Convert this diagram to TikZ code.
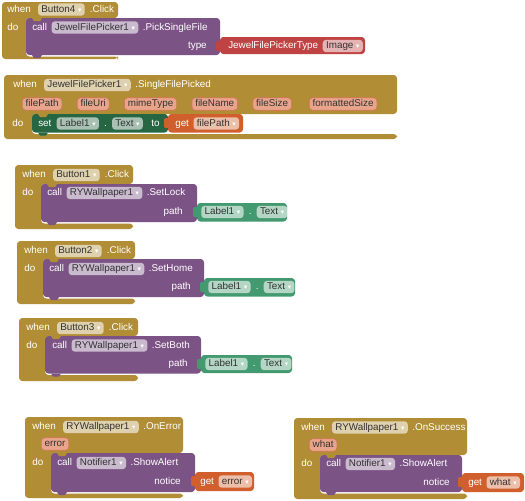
\documentclass[tikz,border=0pt]{standalone}
\usepackage{fontspec}
\setmainfont{Liberation Sans}
\newfontfamily\ddfont{DejaVu Sans}
\usetikzlibrary{positioning}
\definecolor{mgold}{RGB}{177,142,53}
\definecolor{mpurple}{RGB}{124,83,133}
\definecolor{mhelper}{RGB}{191,67,67}
\definecolor{msetgreen}{RGB}{38,102,67}
\definecolor{mgetgreen}{RGB}{67,153,112}
\definecolor{morange}{RGB}{208,95,45}
\definecolor{mparam}{RGB}{233,164,140}
\definecolor{mparamline}{RGB}{214,118,92}
\newcommand{\blkfont}{\fontsize{7.4}{8}\selectfont}
\newcommand{\dd}{\hspace{2pt}{\ddfont\fontsize{5}{5}\selectfont\textcolor{white}{▾}}}
% event block with its statement slot: L T R slot-top slot-left slot-bottom B
\newcommand{\evblock}[7]{%
  \fill[mgold, rounded corners=2.5pt] (#1,#2) -- (#3,#2) -- (#3,#4) -- (#5,#4)
    -- (#5,#6) -- (#3,#6) -- (#3,#7) -- (#1,#7) -- cycle;}
% statement block: colour x0 y0 x1 y1
\newcommand{\stblock}[5]{%
  \fill[#1, rounded corners=2.5pt] (#2,#3) rectangle (#4,#5);
  \fill[mgold] ({#2+6},#3) -- ++(2,3) -- ++(6,0) -- ++(2,-3) -- cycle;
  \fill[#1] ({#2+6},#5) -- ++(2,3) -- ++(6,0) -- ++(2,-3) -- cycle;}
% value block with its plug: colour x0 y0 x1 y1
\newcommand{\valblock}[5]{%
  \fill[#1, rounded corners=2.5pt] (#2,#3) rectangle (#4,#5);
  \fill[#1, rounded corners=1pt] ({#2-4},{#3+4}) rectangle ({#2+1},{#3+14});}
\tikzset{
  lbl/.style={font=\blkfont, text=white, inner sep=0pt,
    text height=5.4pt, text depth=1.5pt},
  fld/.style={font=\blkfont, text=black!80, fill=white, fill opacity=0.6,
    text opacity=1, rounded corners=2.5pt, inner xsep=2.5pt, inner ysep=1.2pt,
    text height=5.4pt, text depth=1.5pt},
  prm/.style={fld, fill=mparam, fill opacity=1, draw=mparamline, line width=0.5pt}
}
\begin{document}
\begin{tikzpicture}[x=0.75pt, y=-0.75pt]
  \useasboundingbox (0,0) rectangle (525,500);
  \fill[white] (0,0) rectangle (525,500);

  % Button4.Click
  \evblock{2}{2}{118}{18}{26}{56.5}{59}
  \stblock{mpurple}{26}{18}{220}{55}
  \valblock{mhelper}{220}{37}{365}{54}
  \node[lbl, anchor=west] (b4when) at (7,9.5) {when};
  \node[fld, right=5pt of b4when] (b4btn) {Button4\dd};
  \node[lbl, right=3.5pt of b4btn] (b4evt) {.Click};
  \node[lbl, anchor=west] (b4do) at (7,27.5) {do};
  \node[lbl, anchor=west] (b4call) at (32,27.5) {call};
  \node[fld, right=3pt of b4call] (b4comp) {JewelFilePicker1\dd};
  \node[lbl, right=3pt of b4comp] (b4meth) {.PickSingleFile};
  \node[lbl, anchor=east] (b4type) at (207,46) {type};
  \node[lbl, anchor=west] (b4hlp) at (228,46) {JewelFilePickerType};
  \node[fld, right=3pt of b4hlp] (b4img) {Image\dd};

  % JewelFilePicker1.SingleFilePicked
  \evblock{4}{75}{397}{114}{32}{134}{139}
  \stblock{msetgreen}{32}{114}{168}{132.5}
  \valblock{morange}{168}{114}{243}{132.5}
  \node[lbl, anchor=west] (sfwhen) at (13,85) {when};
  \node[fld, right=5pt of sfwhen] (sfcomp) {JewelFilePicker1\dd};
  \node[lbl, right=3pt of sfcomp] (sfevt) {.SingleFilePicked};
  \node[prm, anchor=west] (sfpath) at (22,104) {filePath};
  \node[prm, right=11pt of sfpath] (sfuri) {fileUri};
  \node[prm, right=11pt of sfuri] (sfmime) {mimeType};
  \node[prm, right=11pt of sfmime] (sfname) {fileName};
  \node[prm, right=11pt of sfname] (sfsize) {fileSize};
  \node[prm, right=13pt of sfsize] (sffmt) {formattedSize};
  \node[lbl, anchor=west] (sfdo) at (12,123.5) {do};
  \node[lbl, anchor=west] (sfset) at (38,123.5) {set};
  \node[fld, right=3.5pt of sfset] (sflab) {Label1\dd};
  \node[lbl, right=3.5pt of sflab] (sfdot) {.};
  \node[fld, right=3.5pt of sfdot] (sftxt) {Text\dd};
  \node[lbl, right=6pt of sftxt] (sfto) {to};
  \node[lbl, anchor=west] (sfget) at (175,123.5) {get};
  \node[fld, right=3pt of sfget] (sfvar) {filePath\dd};

  % Button1.Click
  \evblock{15}{165}{133}{184}{41}{223.5}{229}
  \stblock{mpurple}{41}{184}{197}{222}
  \valblock{mgetgreen}{197}{203}{287}{221.5}
  \node[lbl, anchor=west] (b1when) at (22,175) {when};
  \node[fld, right=5pt of b1when] (b1btn) {Button1\dd};
  \node[lbl, right=3.5pt of b1btn] (b1evt) {.Click};
  \node[lbl, anchor=west] (b1do) at (22,193) {do};
  \node[lbl, anchor=west] (b1call) at (47,193) {call};
  \node[fld, right=3pt of b1call] (b1comp) {RYWallpaper1\dd};
  \node[lbl, right=3pt of b1comp] (b1meth) {.SetLock};
  \node[lbl, anchor=east] (b1path) at (183,212) {path};
  \node[fld, anchor=west] (b1lab) at (201,212) {Label1\dd};
  \node[lbl, right=3.5pt of b1lab] (b1dot) {.};
  \node[fld, right=3.5pt of b1dot] (b1txt) {Text\dd};

  % Button2.Click
  \evblock{17}{241}{135}{259}{43}{298.5}{304}
  \stblock{mpurple}{43}{259}{204}{297}
  \valblock{mgetgreen}{204}{278}{295}{296.5}
  \node[lbl, anchor=west] (b2when) at (24,251) {when};
  \node[fld, right=5pt of b2when] (b2btn) {Button2\dd};
  \node[lbl, right=3.5pt of b2btn] (b2evt) {.Click};
  \node[lbl, anchor=west] (b2do) at (24,269) {do};
  \node[lbl, anchor=west] (b2call) at (49,269) {call};
  \node[fld, right=3pt of b2call] (b2comp) {RYWallpaper1\dd};
  \node[lbl, right=3pt of b2comp] (b2meth) {.SetHome};
  \node[lbl, anchor=east] (b2path) at (191,287) {path};
  \node[fld, anchor=west] (b2lab) at (208,287) {Label1\dd};
  \node[lbl, right=3.5pt of b2lab] (b2dot) {.};
  \node[fld, right=3.5pt of b2dot] (b2txt) {Text\dd};

  % Button3.Click
  \evblock{19}{318}{138}{336}{45}{375}{381}
  \stblock{mpurple}{45}{336}{201}{373.5}
  \valblock{mgetgreen}{201}{355}{292}{373}
  \node[lbl, anchor=west] (b3when) at (26,328) {when};
  \node[fld, right=5pt of b3when] (b3btn) {Button3\dd};
  \node[lbl, right=3.5pt of b3btn] (b3evt) {.Click};
  \node[lbl, anchor=west] (b3do) at (26,345.5) {do};
  \node[lbl, anchor=west] (b3call) at (52,345.5) {call};
  \node[fld, right=3pt of b3call] (b3comp) {RYWallpaper1\dd};
  \node[lbl, right=3pt of b3comp] (b3meth) {.SetBoth};
  \node[lbl, anchor=east] (b3path) at (188,364) {path};
  \node[fld, anchor=west] (b3lab) at (205,364) {Label1\dd};
  \node[lbl, right=3.5pt of b3lab] (b3dot) {.};
  \node[fld, right=3.5pt of b3dot] (b3txt) {Text\dd};

  % RYWallpaper1.OnError
  \evblock{25}{417}{183}{453}{51}{493.5}{498}
  \stblock{mpurple}{51}{453}{195}{492}
  \valblock{morange}{195}{472}{254}{491}
  \node[lbl, anchor=west] (erwhen) at (32,427) {when};
  \node[fld, right=5pt of erwhen] (ercomp) {RYWallpaper1\dd};
  \node[lbl, right=3pt of ercomp] (erevt) {.OnError};
  \node[prm, anchor=west] (erprm) at (41,444) {error};
  \node[lbl, anchor=west] (erdo) at (32,463) {do};
  \node[lbl, anchor=west] (ercall) at (57,463) {call};
  \node[fld, right=3pt of ercall] (ernot) {Notifier1\dd};
  \node[lbl, right=3pt of ernot] (ermeth) {.ShowAlert};
  \node[lbl, anchor=east] (ernotice) at (181,481.5) {notice};
  \node[lbl, anchor=west] (erget) at (200,481.5) {get};
  \node[fld, right=3pt of erget] (ervar) {error\dd};

  % RYWallpaper1.OnSuccess
  \evblock{294}{418}{467}{455}{320}{493.5}{499}
  \stblock{mpurple}{320}{455}{462}{492}
  \valblock{morange}{462}{473}{524}{492}
  \node[lbl, anchor=west] (okwhen) at (301,427.5) {when};
  \node[fld, right=5pt of okwhen] (okcomp) {RYWallpaper1\dd};
  \node[lbl, right=3pt of okcomp] (okevt) {.OnSuccess};
  \node[prm, anchor=west] (okprm) at (309,445) {what};
  \node[lbl, anchor=west] (okdo) at (301,464) {do};
  \node[lbl, anchor=west] (okcall) at (326,464) {call};
  \node[fld, right=3pt of okcall] (oknot) {Notifier1\dd};
  \node[lbl, right=3pt of oknot] (okmeth) {.ShowAlert};
  \node[lbl, anchor=east] (oknotice) at (450,482.5) {notice};
  \node[lbl, anchor=west] (okget) at (468,482.5) {get};
  \node[fld, right=3pt of okget] (okvar) {what\dd};
\end{tikzpicture}
\end{document}
